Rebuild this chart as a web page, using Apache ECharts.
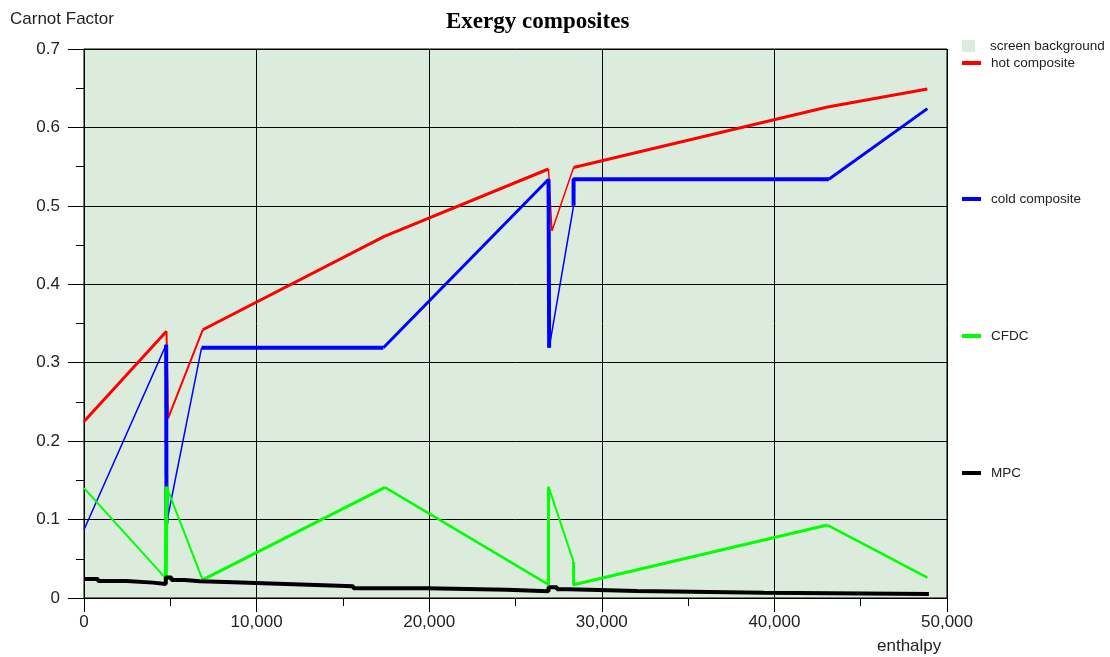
<!DOCTYPE html>
<html>
<head>
<meta charset="utf-8">
<script src="https://cdn.jsdelivr.net/npm/echarts@6/dist/echarts.min.js"></script>
<style>
html,body{margin:0;padding:0;background:#fff;}
#chart{width:1110px;height:657px;}
</style>
</head>
<body>
<div id="chart"></div>
<script>
// ---- data ----
const hotH  = [0, 4780, 4870, 6880, 17400, 26914, 27111, 28364, 43080, 48863];
const hotC  = [0.225, 0.340, 0.229, 0.342, 0.461, 0.547, 0.468, 0.549, 0.626, 0.649];

const coldH = [0, 4760, 4780, 6810, 17343, 26914, 26950, 28364, 28364, 43155, 48863];
const coldC = [0.087, 0.323, 0.095, 0.319, 0.319, 0.534, 0.319, 0.500, 0.534, 0.534, 0.624];

const cfdcH = [0, 4740, 4780, 6870, 17440, 26914, 26914, 28364, 28364, 43080, 48863];
const cfdcC = [0.140, 0.025, 0.142, 0.023, 0.141, 0.017, 0.142, 0.046, 0.017, 0.093, 0.026];

const mpcH  = [0, 812, 2459, 4002, 4739, 5069, 5841, 6711, 8643, 12123, 15603, 19861, 24500, 26914, 27401, 28074, 32042, 39385, 48956];
const mpcC  = [0.0243, 0.0217, 0.0196, 0.0179, 0.026, 0.023, 0.0213, 0.020, 0.0175, 0.015, 0.0124, 0.0106, 0.0085, 0.0137, 0.011, 0.009, 0.0068, 0.0051, 0.0051];

const seriesNames = ['screen background', 'hot composite', 'cold composite', 'CFDC', 'MPC'];

// ---- styling (segment line widths) ----
const hotW  = [3, 2, 2, 3, 3, 1.5, 1.5, 3, 3];
const coldW = [1.5, 4, 1.5, 4, 3, 4, 1.5, 4, 4, 3];
const cfdcW = [2, 4, 2, 3, 2.5, 3, 2, 3, 3, 2.5];

function pairs(H, C, a, b) {
  const out = [];
  for (let i = a; i <= b; i++) out.push([H[i], C[i]]);
  return out;
}
function segmented(name, H, C, W, color) {
  const res = [];
  let start = 0;
  for (let i = 1; i <= W.length; i++) {
    if (i === W.length || W[i] !== W[start]) {
      res.push({
        name: name, type: 'line', showSymbol: false, symbol: 'none',
        color: color, animation: false,
        lineStyle: {width: W[start], color: color},
        itemStyle: {color: color},
        data: pairs(H, C, start, i)
      });
      start = i;
    }
  }
  return res;
}

const BG = '#dcecdc';
const font = 'Liberation Sans, Arial, sans-serif';

const series = [
  {name: seriesNames[0], type: 'line', data: [], color: BG, itemStyle: {color: BG}, lineStyle: {color: BG}, showSymbol: false}
]
  .concat(segmented(seriesNames[1], hotH, hotC, hotW, '#ff0000'))
  .concat(segmented(seriesNames[2], coldH, coldC, coldW, '#0000ff'))
  .concat(segmented(seriesNames[3], cfdcH, cfdcC, cfdcW, '#00ff00'))
  .concat([{
    name: seriesNames[4], type: 'line', step: 'end', showSymbol: false, symbol: 'none',
    color: '#000', animation: false, lineStyle: {width: 4, color: '#000'}, itemStyle: {color: '#000'},
    data: pairs(mpcH, mpcC, 0, mpcH.length - 1)
  }]);

function legendFor(name, top, square) {
  return {
    data: [name], left: 962, top: top, orient: 'vertical', padding: 0,
    selectedMode: false, icon: 'rect',
    itemWidth: square ? 13 : 19, itemHeight: square ? 12 : 4,
    textStyle: {fontFamily: font, fontSize: 13.5, color: '#222', padding: [0, 0, 0, square ? 10 : 5]}
  };
}

const chart = echarts.init(document.getElementById('chart'), null, {renderer: 'canvas'});
chart.setOption({
  backgroundColor: '#ffffff',
  animation: false,
  title: [
    {text: 'Exergy composites', left: 446, top: 11, padding: 0,
     textStyle: {fontFamily: 'Liberation Serif, Times New Roman, serif', fontWeight: 'bold', fontSize: 23, color: '#000'}},
    {text: 'Carnot Factor', left: 10, top: 11, padding: 0,
     textStyle: {fontFamily: font, fontWeight: 'normal', fontSize: 17, color: '#222'}},
    {text: 'enthalpy', left: 877, top: 638, padding: 0,
     textStyle: {fontFamily: font, fontWeight: 'normal', fontSize: 17, color: '#222'}}
  ],
  legend: [
    legendFor(seriesNames[0], 39, true),
    legendFor(seriesNames[1], 56, false),
    legendFor(seriesNames[2], 192, false),
    legendFor(seriesNames[3], 329, false),
    legendFor(seriesNames[4], 466, false)
  ],
  grid: {
    left: 84, right: 163, top: 49, bottom: 59,
    show: true, backgroundColor: BG, borderColor: '#000', borderWidth: 1
  },
  xAxis: {
    type: 'value', min: 0, max: 50000, interval: 10000,
    axisLine: {show: true, lineStyle: {color: '#000', width: 1}},
    axisTick: {show: true, length: 14, lineStyle: {color: '#000'}},
    minorTick: {show: true, splitNumber: 2, length: 8, lineStyle: {color: '#000'}},
    splitLine: {show: true, lineStyle: {color: '#000', width: 1}},
    axisLabel: {margin: 16, fontFamily: font, fontSize: 17, color: '#222',
      formatter: v => Math.round(v).toLocaleString('en-US')}
  },
  yAxis: {
    type: 'value', min: 0, max: 0.7, interval: 0.1,
    axisLine: {show: true, lineStyle: {color: '#000', width: 1}},
    axisTick: {show: true, length: 16, lineStyle: {color: '#000'}},
    minorTick: {show: true, splitNumber: 2, length: 8, lineStyle: {color: '#000'}},
    splitLine: {show: true, lineStyle: {color: '#000', width: 1}},
    axisLabel: {margin: 24, fontFamily: font, fontSize: 17, color: '#222',
      formatter: v => (Math.round(v * 10) / 10).toString()}
  },
  series: series
});
</script>
</body>
</html>
